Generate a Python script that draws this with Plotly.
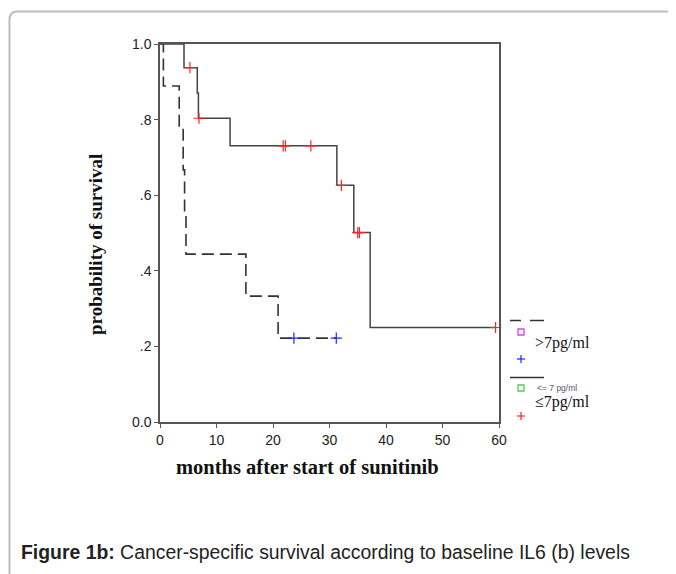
import plotly.graph_objects as go

# ---- data ----
low_times = [0, 4.25, 6.6, 6.8, 12.4, 31.3, 34.3, 37.2, 59.4]
low_surv = [1.0, 0.9375, 0.8705, 0.8036, 0.7305, 0.626, 0.501, 0.25, 0.25]
low_cens_t = [5.3, 6.9, 21.8, 22.2, 26.7, 32.1, 35.0, 35.3, 59.4]
low_cens_s = [0.9375, 0.8036, 0.7305, 0.7305, 0.7305, 0.626, 0.501, 0.501, 0.25]

high_times = [0, 0.6, 3.4, 4.1, 4.35, 4.6, 15.2, 20.9, 31.2]
high_surv = [1.0, 0.889, 0.778, 0.667, 0.556, 0.444, 0.333, 0.222, 0.222]
high_cens_t = [23.7, 31.2]
high_cens_s = [0.222, 0.222]

y_ticks = [0, 0.2, 0.4, 0.6, 0.8, 1.0]
y_ticktext = ["0.0", ".2", ".4", ".6", ".8", "1.0"]
x_ticks = [0, 10, 20, 30, 40, 50, 60]

OFF = 8  # page body margin
W, H = 676 - OFF, 574 - OFF
# plot area in window pixel coords
L, R, T, B = 160, 499, 44, 422


def px(x):
    return (x - L) / (R - L)


def py(y):
    return (B - y) / (B - T)


fig = go.Figure()
fig.add_trace(go.Scatter(x=high_times, y=high_surv, mode="lines", line_shape="hv",
                         line=dict(color="#333333", width=1.6, dash="12px,6px"),
                         showlegend=False, hoverinfo="skip"))
fig.add_trace(go.Scatter(x=low_times, y=low_surv, mode="lines", line_shape="hv",
                         line=dict(color="#444444", width=1.5),
                         showlegend=False, hoverinfo="skip"))
fig.add_trace(go.Scatter(x=low_cens_t, y=low_cens_s, mode="markers",
                         marker=dict(symbol="cross-thin", size=8,
                                     line=dict(color="#ff2222", width=1.2)),
                         showlegend=False, cliponaxis=False, hoverinfo="skip"))
fig.add_trace(go.Scatter(x=high_cens_t, y=high_cens_s, mode="markers",
                         marker=dict(symbol="cross-thin", size=8,
                                     line=dict(color="#2222ff", width=1.2)),
                         showlegend=False, cliponaxis=False, hoverinfo="skip"))

shapes = []
# outer rounded frame
x0, y0, r = 9.5, 11.5, 8
frame_path = (f"M {px(x0)},{py(600)} L {px(x0)},{py(y0 + r)} "
              f"Q {px(x0)},{py(y0)} {px(x0 + r)},{py(y0)} L {px(700)},{py(y0)}")
shapes.append(dict(type="path", xref="paper", yref="paper", path=frame_path,
                   line=dict(color="#bdbdbd", width=2)))

# legend: dashed line
for a, b in [(510, 521), (530, 544)]:
    shapes.append(dict(type="line", xref="paper", yref="paper",
                       x0=px(a), x1=px(b), y0=py(320.5), y1=py(320.5),
                       line=dict(color="#333333", width=1.5)))
# solid line
shapes.append(dict(type="line", xref="paper", yref="paper",
                   x0=px(510), x1=px(544), y0=py(377.5), y1=py(377.5),
                   line=dict(color="#333333", width=1.5)))
# squares
for cy, col in [(332, "#e040e0"), (388, "#50d050")]:
    shapes.append(dict(type="rect", xref="paper", yref="paper",
                       x0=px(518), x1=px(524), y0=py(cy - 3), y1=py(cy + 3),
                       line=dict(color=col, width=1.3)))
# crosses
for cy, col in [(359, "#2222ff"), (416, "#ff2222")]:
    shapes.append(dict(type="line", xref="paper", yref="paper",
                       x0=px(517), x1=px(525), y0=py(cy), y1=py(cy),
                       line=dict(color=col, width=1.2)))
    shapes.append(dict(type="line", xref="paper", yref="paper",
                       x0=px(521), x1=px(521), y0=py(cy - 4), y1=py(cy + 4),
                       line=dict(color=col, width=1.2)))

serif = "Liberation Serif, Times New Roman, serif"
sans = "Liberation Sans, Arial, sans-serif"
annotations = [
    dict(text=">7pg/ml", x=px(533), y=py(343), xref="paper", yref="paper",
         xanchor="left", yanchor="middle", showarrow=False,
         font=dict(family=serif, size=16, color="#111")),
    dict(text="<= 7 pg/ml", x=px(535), y=py(388), xref="paper", yref="paper",
         xanchor="left", yanchor="middle", showarrow=False,
         font=dict(family=sans, size=8.5, color="#556")),
    dict(text="≤7pg/ml", x=px(533), y=py(402), xref="paper", yref="paper",
         xanchor="left", yanchor="middle", showarrow=False,
         font=dict(family=serif, size=16, color="#111")),
    dict(text="<b>months after start of sunitinib</b>", x=px(307), y=py(467),
         xref="paper", yref="paper", xanchor="center", yanchor="middle", showarrow=False,
         font=dict(family=serif, size=20.5, color="#111")),
    dict(text="<b>probability of survival</b>", x=px(95), y=py(245),
         xref="paper", yref="paper", xanchor="center", yanchor="middle", showarrow=False,
         textangle=-90,
         font=dict(family=serif, size=19, color="#111")),
    dict(text="<b>Figure 1b:</b> Cancer-specific survival according to baseline IL6 (b) levels",
         x=px(19), y=py(552), xref="paper", yref="paper", xanchor="left", yanchor="middle",
         showarrow=False,
         font=dict(family=sans, size=19.4, color="#222")),
]

axis_common = dict(showline=True, linecolor="#555555", linewidth=1.5, mirror=True,
                   ticks="outside", ticklen=4, tickcolor="#555555", tickwidth=1.3,
                   showgrid=False, zeroline=False,
                   tickfont=dict(family=sans, size=14, color="#222"))

fig.update_layout(
    width=W, height=H,
    margin=dict(l=L - OFF, r=W - (R - OFF), t=T - OFF, b=H - (B - OFF), pad=0),
    plot_bgcolor="white", paper_bgcolor="white",
    xaxis=dict(range=[0, 60], tickvals=x_ticks, **axis_common),
    yaxis=dict(range=[0, 1], tickvals=y_ticks, ticktext=y_ticktext, **axis_common),
    shapes=shapes, annotations=annotations, showlegend=False,
)

fig.write_html("out.html")
